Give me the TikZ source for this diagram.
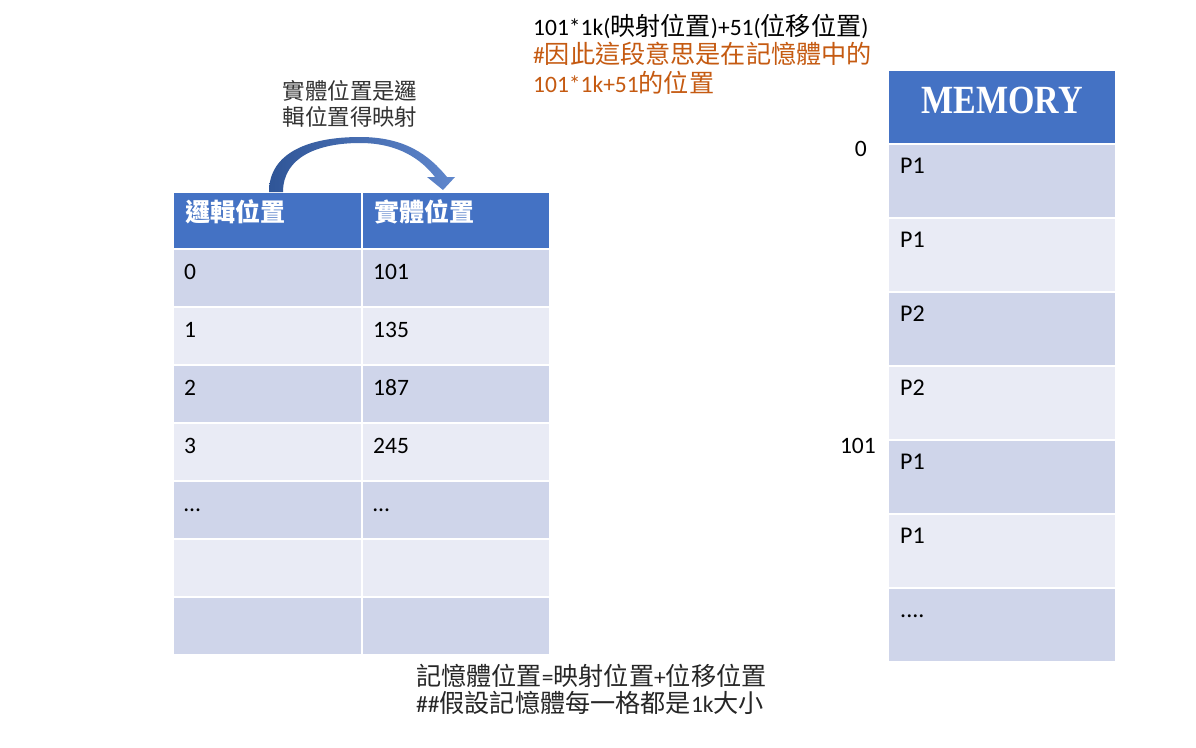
\documentclass[tikz,border=0pt]{standalone}
\usepackage{fontspec}
\usepackage{graphicx}
\setmainfont{Carlito}
\newfontfamily\zh[Scale=1.07]{Noto Sans CJK TC}
\newfontfamily\memfont{Liberation Serif}
\usetikzlibrary{positioning}
\definecolor{hdrblue}{HTML}{4472C4}
\definecolor{rowdark}{HTML}{CFD5EA}
\definecolor{rowlight}{HTML}{E9EBF5}
\definecolor{noteorange}{HTML}{C55A11}
\definecolor{arrdark}{HTML}{2F5597}
\newcommand{\zw}[1]{{\zh #1}}

\begin{document}
\begin{tikzpicture}[
  x=1pt, y=-1pt,
  cell/.style={draw=white, line width=2.5pt, anchor=north west, inner sep=0pt, outer sep=0pt},
  lcell/.style={cell, minimum width=189pt, minimum height=58pt},
  rcell/.style={cell, minimum width=188pt, minimum height=58pt},
  mcell/.style={cell, minimum width=228pt, minimum height=74pt},
  celltxt/.style={anchor=base west, inner sep=0pt, font=\fontsize{23.5}{28}\selectfont},
  hdtxt/.style={anchor=base west, inner sep=0pt, text=white, font=\zh\bfseries\fontsize{23.4}{26}\selectfont},
  note/.style={anchor=base west, inner sep=0pt, font=\fontsize{23.5}{28}\selectfont}
]
\fill[white] (0,0) rectangle (1196,747);
\useasboundingbox (0,0) rectangle (1196,747);

% mapping table
\node[lcell, fill=hdrblue, minimum height=57pt] (hL) at (173,192) {};
\node[rcell, fill=hdrblue, minimum height=57pt] (hR) at (362,192) {};
\node[hdtxt] at ([xshift=12pt,yshift=-29pt]hL.north west) {邏輯位置};
\node[hdtxt] at ([xshift=12pt,yshift=-29pt]hR.north west) {實體位置};

\foreach \i/\fc/\lt/\rt in {1/rowdark/0/101, 2/rowlight/1/135, 3/rowdark/2/187,
    4/rowlight/3/245, 5/rowdark/{…}/{…}, 6/rowlight/{}/{}, 7/rowdark/{}/{}} {
  \pgfmathsetmacro\yy{249+(\i-1)*58}
  \node[lcell, fill=\fc] (L\i) at (173,\yy) {};
  \node[rcell, fill=\fc] (R\i) at (362,\yy) {};
  \node[celltxt] at ([xshift=11pt,yshift=-30pt]L\i.north west) {\lt};
  \node[celltxt] at ([xshift=11pt,yshift=-30pt]R\i.north west) {\rt};
}

% curved arrow logical -> physical
\shade[left color=arrdark, right color=hdrblue!85!white]
  ([xshift=1.5pt]hL.north)
    .. controls +(0,-40) and +(-50,0) .. ([xshift=-2pt,yshift=55pt]hL.north east)
    .. controls +(45,0) and +(-18,-22) .. ([xshift=-9pt,yshift=15pt]hR.north)
  -- ([xshift=-1pt,yshift=15pt]hR.north)
  -- ([xshift=-13pt,yshift=2pt]hR.north)
  -- ([xshift=-29pt,yshift=15pt]hR.north)
  -- ([xshift=-21pt,yshift=15pt]hR.north)
    .. controls +(-14,-18) and +(38,0) .. ([xshift=-2pt,yshift=49pt]hL.north east)
    .. controls +(-42,0) and +(0,-35) .. ([xshift=15.5pt]hL.north)
  -- cycle;
\node[align=center, inner sep=0pt, text=black!80, font=\zh\fontsize{21}{26}\selectfont] (mapnote) at (350,104) {實體位置是邏\\輯位置得映射};

% memory column
\node[mcell, fill=hdrblue] (mH) at (888,70) {};
\node[text=white, inner sep=0pt, yshift=7pt, font=\memfont\bfseries\fontsize{40}{40}\selectfont] at (mH.center) {\scalebox{0.85}[1]{MEMORY}};
\foreach \i/\fc/\t in {1/rowdark/P1, 2/rowlight/P1, 3/rowdark/P2, 4/rowlight/P2,
    5/rowdark/P1, 6/rowlight/P1, 7/rowdark/{....}} {
  \pgfmathsetmacro\yy{144+(\i-1)*74}
  \node[mcell, fill=\fc] (M\i) at (888,\yy) {};
  \node[celltxt, font=\fontsize{24}{28}\selectfont] at ([xshift=12pt,yshift=-29pt]M\i.north west) {\t};
}
\node[celltxt, anchor=base east, font=\fontsize{23.5}{28}\selectfont] (a0) at ([xshift=-21pt,yshift=-12pt]M1.north west) {0};
\node[celltxt, anchor=base east, font=\fontsize{23.5}{28}\selectfont] (a101) at ([xshift=-12pt,yshift=-13pt]M5.north west) {101};

% notes
\node[note] (note1) at (533,35) {101*1k(\zw{映射位置})+51(\zw{位移位置})};
\node[note, text=noteorange] (note2) at ([yshift=-28.5pt]note1.base west) {\#\zw{因此這段意思是在記憶體中的}};
\node[note, text=noteorange] (note3) at ([yshift=-28.5pt]note2.base west) {101*1k+51\zw{的位置}};

\node[note, text=black!85] (bot1) at (416,685) {\zw{記憶體位置}=\zw{映射位置}+\zw{位移位置}};
\node[note, text=black!85] (bot2) at ([yshift=-27pt]bot1.base west) {\#\#\zw{假設記憶體每一格都是}1k\zw{大小}};
\end{tikzpicture}
\end{document}
